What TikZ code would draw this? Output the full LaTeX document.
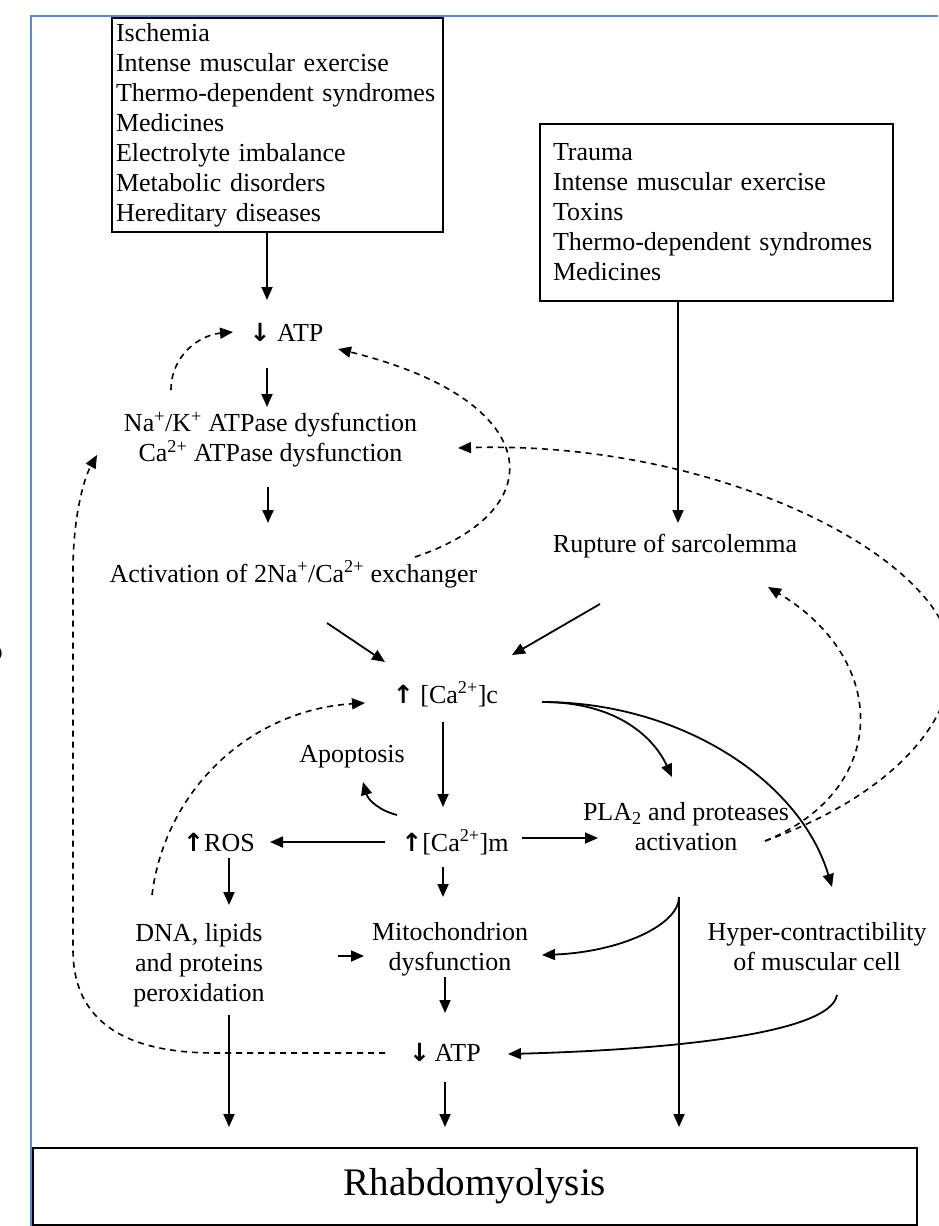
\documentclass[tikz,border=0pt]{standalone}
\usepackage{fontspec}
\setmainfont{Liberation Serif}
\newfontfamily\arrowfont{DejaVu Sans}
\newcommand{\ArrUp}{{\arrowfont\bfseries\fontsize{25}{30}\selectfont ↑}}
\newcommand{\ArrDown}{{\arrowfont\bfseries\fontsize{25}{30}\selectfont ↓}}
\usetikzlibrary{positioning, arrows.meta, calc}
\definecolor{frameblue}{HTML}{5B8BCB}

\begin{document}
\begin{tikzpicture}[x=1pt, y=-1pt,
    txt/.style={font=\fontsize{26}{30}\selectfont, inner sep=0pt},
    one/.style={txt, text height=18pt, text depth=6pt},
    multi/.style={txt, align=center},
    cause/.style={draw, line width=1.8pt, font=\fontsize{26}{30}\selectfont, align=left, inner ysep=3pt},
    arr/.style={-{Triangle[length=13pt,width=11pt]}, line width=1.8pt},
    dsh/.style={arr, line width=1.6pt, dash pattern=on 6pt off 5pt}]
  \useasboundingbox (0,0) rectangle (938,1226);
  \draw[frameblue, line width=2.5pt] (31,1226) -- (31,16) -- (938,16);
  \node[font=\fontsize{46}{50}\selectfont\sffamily, anchor=east, inner sep=0pt] (stray) at (5,647) {S};

  \node[cause, text width=323pt, inner xsep=4pt, minimum height=214pt] (lbox) at (277.5,125) {Ischemia\\Intense muscular exercise\\Thermo-dependent syndromes\\Medicines\\Electrolyte imbalance\\Metabolic disorders\\Hereditary diseases};
  \node[cause, text width=327pt, inner xsep=13pt, minimum height=177pt] (rbox) at (716.5,212.5) {Trauma\\Intense muscular exercise\\Toxins\\Thermo-dependent syndromes\\Medicines};

  \node[one] (atp1) at (286.5,335) {\ArrDown\ ATP};
  \node[multi] (pump) at (270.5,440) {Na\textsuperscript{+}/K\textsuperscript{+} ATPase dysfunction\\Ca\textsuperscript{2+} ATPase dysfunction};
  \node[one] (exch) at (293.5,576) {Activation of 2Na\textsuperscript{+}/Ca\textsuperscript{2+} exchanger};
  \node[one] (rupt) at (675,546) {Rupture of sarcolemma};
  \node[one] (cac) at (445.5,697) {\ArrUp\ [Ca\textsuperscript{2+}]c};
  \node[one] (apop) at (352,756) {Apoptosis};
  \node[one] (cam) at (455,845) {\ArrUp[Ca\textsuperscript{2+}]m};
  \node[one] (ros) at (219,845) {\ArrUp ROS};
  \node[multi] (pla) at (686,827) {PLA\textsubscript{2} and proteases\\activation};
  \node[multi] (dna) at (199,965) {DNA, lipids\\and proteins\\peroxidation};
  \node[multi] (mito) at (450,949) {Mitochondrion\\dysfunction};
  \node[multi] (hyper) at (817,947) {Hyper-contractibility\\of muscular cell};
  \node[one] (atp2) at (445,1055) {\ArrDown\,ATP};
  \node[draw, line width=1.8pt, minimum width=884pt, minimum height=77pt, font=\fontsize{39}{44}\selectfont] (rhab) at (475,1186.5) {Rhabdomyolysis};

  \coordinate (plaFoot) at ($(pla)+(-7,70)$);
  \coordinate (plaOut) at ($(pla)+(79,14)$);
  \coordinate (cacOut) at ($(cac)+(96.5,5)$);

  \draw[arr] ($(lbox)+(-10.5,107)$) -- ($(atp1)+(-19.5,-35)$);
  \draw[arr] ($(atp1)+(-19.5,33)$) -- ($(pump)+(-3.5,-33)$);
  \draw[arr] ($(pump)+(-2.5,47)$) -- ($(exch)+(-25.5,-53)$);
  \draw[arr] ($(rbox)+(-38.5,88.5)$) -- ($(rupt)+(3,-23)$);
  \draw[arr] ($(exch)+(33.5,47)$) -- ($(cac)+(-60.5,-35)$);
  \draw[arr] ($(rupt)+(-75,58)$) -- ($(cac)+(66.5,-42)$);
  \draw[arr] ($(cac)+(-2.5,25)$) -- ($(cam)+(-12,-38)$);
  \draw[arr] ($(cam)+(-58,-30)$) to[bend left=30] ($(apop)+(11,26)$);
  \draw[arr] ($(cam)+(-70,-3)$) -- ($(ros)+(51,-3)$);
  \draw[arr] ($(ros)+(10,13)$) -- ($(dna)+(30,-60)$);
  \draw[arr] ($(cam)+(-12,22)$) -- ($(mito)+(-7,-52)$);
  \draw[arr] ($(cam)+(67,-7)$) -- ($(pla)+(-88,11)$);
  \draw[arr] (cacOut) .. controls +(78,0) and +(-17,-37) .. ($(pla)+(-14,-50)$);
  \draw[arr] (cacOut) .. controls +(138,0) and +(-32,-107) .. ($(hyper)+(15,-60)$);
  \draw[arr] (plaFoot) -- ($(rhab)+(204,-59.5)$);
  \draw[arr] (plaFoot) .. controls +(0,28) and +(78,-3) .. ($(mito)+(92,6)$);
  \draw[arr] ($(dna)+(139,-9)$) -- ($(mito)+(-86,7)$);
  \draw[arr] ($(mito)+(-5,28)$) -- ($(atp2)+(0,-42)$);
  \draw[arr] ($(hyper)+(20,48)$) .. controls +(-7,40) and +(152,-4) .. ($(atp2)+(63,-1)$);
  \draw[arr] ($(dna)+(30,50)$) -- ($(rhab)+(-246,-59.5)$);
  \draw[arr] ($(atp2)+(0,27)$) -- ($(rhab)+(-30,-59.5)$);

  \draw[dsh] ($(pump)+(-99.5,-50)$) .. controls +(0,-35) and +(-33,3) .. ($(atp1)+(-53.5,-3)$);
  \draw[dsh] ($(exch)+(121.5,-19)$) .. controls +(140,-47) and +(207,51) .. ($(atp1)+(51.5,14)$);
  \draw[dsh] (plaOut) .. controls +(115,-41) and +(0,70) .. (952,660) .. controls +(0,-100) and +(262,-8) .. ($(pump)+(187.5,8)$);
  \draw[dsh] (plaOut) .. controls +(125,-51) and +(122,73) .. ($(rupt)+(93,41)$);
  \draw[dsh] ($(dna)+(-47,-70)$) .. controls +(13,-105) and +(-115,7) .. ($(cac)+(-80.5,6)$);
  \draw[dsh] ($(atp2)+(-60,-2)$) -- (215,1053) .. controls (110,1053) and (73,1010) .. (73,950) -- (73,570) .. controls (73,520) and (83,480) .. ($(pump)+(-173.5,15)$);
\end{tikzpicture}
\end{document}
